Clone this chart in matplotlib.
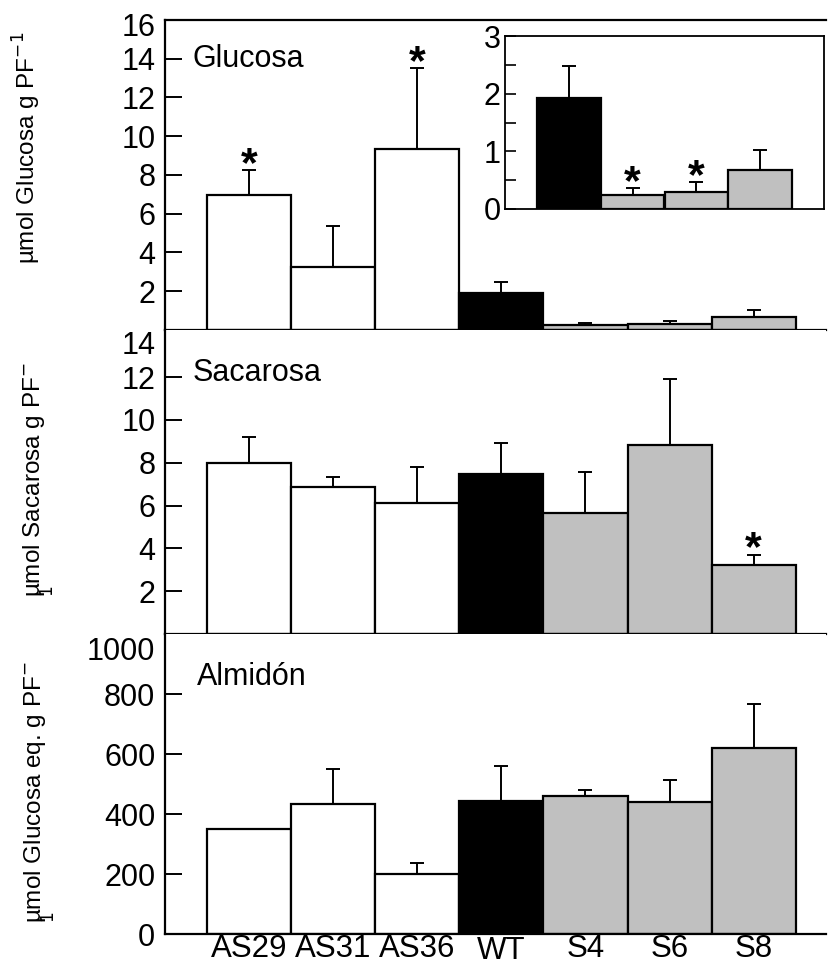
import matplotlib
matplotlib.use("Agg")
import matplotlib.pyplot as plt
import matplotlib.transforms as mtransforms
import numpy as np

plt.rcParams['font.family'] = ['Liberation Sans', 'DejaVu Sans']

# ---- data -------------------------------------------------------------
lines = ["AS29", "AS31", "AS36", "WT", "S4", "S6", "S8"]
bar_colors = ["#ffffff", "#ffffff", "#ffffff", "#000000", "#c0c0c0", "#c0c0c0", "#c0c0c0"]

glucosa = [6.95, 3.25, 9.35, 1.92, 0.24, 0.30, 0.68]
glucosa_err = [1.30, 2.10, 4.15, 0.56, 0.12, 0.16, 0.34]
glucosa_sig = [True, False, True, False, True, True, False]

sacarosa = [7.99, 6.87, 6.14, 7.46, 5.66, 8.81, 3.21]
sacarosa_err = [1.19, 0.46, 1.64, 1.47, 1.92, 3.09, 0.49]
sacarosa_sig = [False, False, False, False, False, False, True]

almidon = [351, 433, 199, 444, 459, 441, 621]
almidon_err = [0, 116, 38, 115, 22, 72, 146]

glucosa_ticks = [2, 4, 6, 8, 10, 12, 14, 16]
sacarosa_ticks = [2, 4, 6, 8, 10, 12, 14]
almidon_ticks = [0, 200, 400, 600, 800, 1000]
inset_ticks = [0, 1, 2, 3]
inset_minor = [0.5, 1.5, 2.5]

# ---- figure -----------------------------------------------------------
W, H = 829, 969
fig = plt.figure(figsize=(W / 100, H / 100), dpi=100)


def px_axes(left, top, right, bottom):
    return fig.add_axes([left / W, 1 - bottom / H, (right - left) / W, (bottom - top) / H])


ax1 = px_axes(165, 20, 826, 330)
ax2 = px_axes(165, 330, 826, 634)
ax3 = px_axes(165, 634, 826, 934)
axin = px_axes(505, 36, 824, 209)

x = np.arange(len(lines))
LW = 1.6
TICK_FS = 22


def shift(artist, dy_px):
    artist.set_transform(artist.get_transform() +
                         mtransforms.ScaledTranslation(0, -dy_px / 100, fig.dpi_scale_trans))


def draw_bars(ax, xs, vals, errs, colors):
    ax.bar(xs, vals, width=1.0, color=colors, edgecolor="black", linewidth=LW, zorder=2)
    ax.errorbar(xs, vals, yerr=[np.zeros(len(vals)), errs], fmt="none", ecolor="black",
                elinewidth=1.4, capsize=5, capthick=1.4, zorder=1)


def stars(ax, xs, vals, errs, flags, dy=-4):
    for xi, v, e, f in zip(xs, vals, errs, flags):
        if f:
            ax.annotate("*", xy=(xi, v + e), xytext=(0, dy), textcoords="offset points",
                        ha="center", va="baseline", fontsize=31, fontweight="bold")


def style_main(ax, ticks, top_spine=False):
    ax.spines["right"].set_visible(False)
    ax.spines["top"].set_visible(top_spine)
    for side in ("left", "bottom", "top"):
        ax.spines[side].set_linewidth(LW)
    ax.set_xlim(-1.0, 6.86)
    ax.set_yticks(ticks)
    ax.set_yticklabels([str(t) for t in ticks])
    ax.tick_params(axis="y", direction="in", length=12, width=1.4, pad=7, labelsize=TICK_FS)
    ax.tick_params(axis="x", length=0, labelbottom=False)


# Glucosa panel
draw_bars(ax1, x, glucosa, glucosa_err, bar_colors)
stars(ax1, x[:3], glucosa[:3], glucosa_err[:3], glucosa_sig[:3])
style_main(ax1, glucosa_ticks, top_spine=True)
ax1.set_ylim(0, 16)
shift(ax1.yaxis.get_major_ticks()[-1].label1, 5)
ax1.annotate("Glucosa", xy=(0, 1), xycoords="axes fraction", xytext=(20, -33.5),
             textcoords="offset points", ha="left", va="baseline", fontsize=22)

# Sacarosa panel
draw_bars(ax2, x, sacarosa, sacarosa_err, bar_colors)
stars(ax2, x, sacarosa, sacarosa_err, sacarosa_sig)
style_main(ax2, sacarosa_ticks)
ax2.set_ylim(0, 14.2)
top_tick = ax2.yaxis.get_major_ticks()[-1]
top_tick.tick1line.set_visible(False)
shift(top_tick.label1, 8)
ax2.annotate("Sacarosa", xy=(0, 1), xycoords="axes fraction", xytext=(20, -37),
             textcoords="offset points", ha="left", va="baseline", fontsize=22)

# Almidón panel
draw_bars(ax3, x, almidon, almidon_err, bar_colors)
style_main(ax3, almidon_ticks)
ax3.set_ylim(0, 1000)
ticks3 = ax3.yaxis.get_major_ticks()
ticks3[0].tick1line.set_visible(False)
ticks3[-1].tick1line.set_visible(False)
shift(ticks3[-1].label1, 14)
ax3.annotate("Almidón", xy=(0, 1), xycoords="axes fraction", xytext=(23, -36.5),
             textcoords="offset points", ha="left", va="baseline", fontsize=22)

# category labels under the lowest panel
ax3.set_xticks(x)
ax3.set_xticklabels(lines)
ax3.tick_params(axis="x", length=0, labelbottom=True, labelsize=22.5, pad=0)
for lab in ax3.get_xticklabels():
    if lab.get_text() == "WT":
        shift(lab, 2)

# y-axis titles
fig.text(27 / W, 1 - 148 / H, "µmol Glucosa g PF$^{-1}$", rotation=90,
         ha="center", va="center", fontsize=17.5)
fig.text(21 / W, 1 - 480 / H, "µmol Sacarosa g PF$^{-}$\n$^{1}$", rotation=90,
         ha="left", va="center", fontsize=17.5, multialignment="left", linespacing=0.85)
fig.text(22 / W, 1 - 792 / H, "µmol Glucosa eq. g PF$^{-}$\n$^{1}$", rotation=90,
         ha="left", va="center", fontsize=17.5, multialignment="left", linespacing=0.85)

# inset: glucose of WT and S lines on an expanded scale
xi = np.arange(4)
draw_bars(axin, xi, glucosa[3:], glucosa_err[3:], bar_colors[3:])
stars(axin, xi, glucosa[3:], glucosa_err[3:], glucosa_sig[3:])
axin.set_xlim(-1.0, 4.0)
axin.set_ylim(0, 3)
axin.set_yticks(inset_ticks)
axin.set_yticks(inset_minor, minor=True)
axin.set_yticklabels([str(t) for t in inset_ticks])
axin.tick_params(axis="y", which="both", direction="in", length=8, width=1.2, pad=3,
                 labelsize=TICK_FS)
axin.tick_params(axis="x", length=0, labelbottom=False)
for s in axin.spines.values():
    s.set_linewidth(1.3)

fig.savefig("out.png", dpi=100)
